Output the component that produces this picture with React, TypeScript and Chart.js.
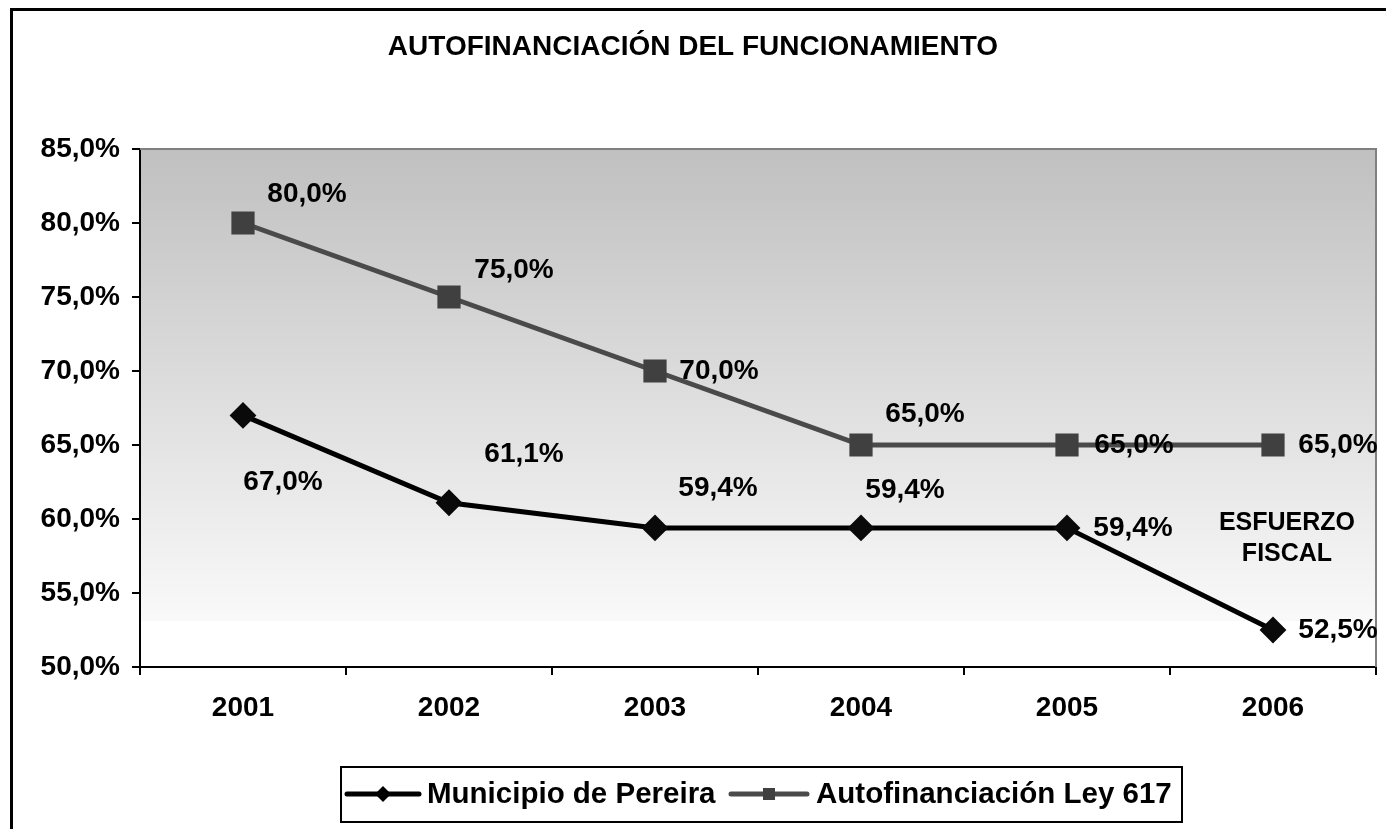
import React, { useEffect, useRef } from "react";
import { Chart, registerables } from "chart.js";

Chart.register(...registerables);

const TITLE = "AUTOFINANCIACIÓN DEL FUNCIONAMIENTO";
const YEARS = ["2001", "2002", "2003", "2004", "2005", "2006"];
const PEREIRA = [67.0, 61.1, 59.4, 59.4, 59.4, 52.5];
const LEY617 = [80.0, 75.0, 70.0, 65.0, 65.0, 65.0];
const SERIES_NAMES = ["Municipio de Pereira", "Autofinanciación Ley 617"];
const NOTE_LINES = ["ESFUERZO", "FISCAL"];
const Y_MIN = 50;
const Y_MAX = 85;
const Y_STEP = 5;

// label offsets (style only): [dx, dy] from each point
const PEREIRA_LABEL_OFFSETS = [
  [40, 67],
  [75, -48],
  [63, -40],
  [44, -38],
  [66, 0],
  [65, 0],
];
const LEY_LABEL_OFFSETS = [
  [64, -29],
  [65, -27],
  [64, 0],
  [64, -31],
  [67, 0],
  [65, 0],
];

const FONT = '"Liberation Sans", Arial, Helvetica, sans-serif';
const LINE2 = "#4a4a4a";
const MARK2 = "#404040";

const fmt = (v: number) => v.toFixed(1).replace(".", ",") + "%";

const decorPlugin = {
  id: "decor",
  beforeDraw(chart: any) {
    const { ctx, chartArea } = chart;
    const { left, top, right, bottom } = chartArea;
    const h = bottom - top;
    const gEnd = top + h * 0.911;
    ctx.save();
    ctx.fillStyle = "#ffffff";
    ctx.fillRect(0, 0, chart.width, chart.height);
    const g = ctx.createLinearGradient(0, top, 0, gEnd);
    g.addColorStop(0, "#c0c0c0");
    g.addColorStop(1, "#f9f9f9");
    ctx.fillStyle = g;
    ctx.fillRect(left, top, right - left, gEnd - top);
    ctx.restore();
  },
  beforeDatasetsDraw(chart: any) {
    const { ctx, chartArea } = chart;
    const { left, top, right, bottom } = chartArea;
    ctx.save();
    ctx.strokeStyle = "#808080";
    ctx.lineWidth = 2;
    ctx.beginPath();
    ctx.moveTo(left, top);
    ctx.lineTo(right, top);
    ctx.lineTo(right, bottom);
    ctx.stroke();
    ctx.restore();
  },
  afterDatasetsDraw(chart: any) {
    const { ctx } = chart;
    ctx.save();
    ctx.fillStyle = "#000";
    ctx.textAlign = "center";
    ctx.textBaseline = "middle";
    ctx.font = `bold 28px ${FONT}`;
    const offs = [PEREIRA_LABEL_OFFSETS, LEY_LABEL_OFFSETS];
    chart.data.datasets.forEach((ds: any, di: number) => {
      const meta = chart.getDatasetMeta(di);
      meta.data.forEach((pt: any, i: number) => {
        const [dx, dy] = offs[di][i];
        ctx.fillText(fmt(ds.data[i]), pt.x + dx, pt.y + dy);
      });
    });
    // note text
    const xs = chart.scales.x;
    const ys = chart.scales.y;
    const nx = xs.getPixelForValue(5) + 14;
    const ny = ys.getPixelForValue(59.4) - 5;
    ctx.font = `bold 25px ${FONT}`;
    ctx.fillText(NOTE_LINES[0], nx, ny);
    ctx.fillText(NOTE_LINES[1], nx, ny + 31);
    ctx.restore();
  },
  afterDraw(chart: any) {
    const { ctx } = chart;
    ctx.save();
    // title
    ctx.fillStyle = "#000";
    ctx.font = `bold 28px ${FONT}`;
    ctx.textAlign = "center";
    ctx.textBaseline = "middle";
    ctx.fillText(TITLE, 693, 47);

    // legend
    ctx.strokeStyle = "#000";
    ctx.lineWidth = 2;
    ctx.strokeRect(341, 767, 841, 55);
    const ly = 794;
    ctx.lineCap = "round";
    // entry 1
    ctx.strokeStyle = "#000";
    ctx.lineWidth = 5;
    ctx.beginPath();
    ctx.moveTo(347, ly);
    ctx.lineTo(419, ly);
    ctx.stroke();
    ctx.fillStyle = "#000";
    ctx.beginPath();
    ctx.moveTo(383, ly - 8);
    ctx.lineTo(391, ly);
    ctx.lineTo(383, ly + 8);
    ctx.lineTo(375, ly);
    ctx.closePath();
    ctx.fill();
    // entry 2
    ctx.strokeStyle = LINE2;
    ctx.beginPath();
    ctx.moveTo(731, ly);
    ctx.lineTo(807, ly);
    ctx.stroke();
    ctx.fillStyle = MARK2;
    ctx.fillRect(763, ly - 6, 12, 12);
    ctx.fillStyle = "#000";
    ctx.font = `bold 29.5px ${FONT}`;
    ctx.textAlign = "left";
    ctx.fillText(SERIES_NAMES[0], 427, ly + 1);
    ctx.fillText(SERIES_NAMES[1], 816, ly + 1);

    // outer border
    ctx.lineCap = "butt";
    ctx.strokeStyle = "#000";
    ctx.lineWidth = 3;
    ctx.strokeRect(11.5, 9.5, 1500, 1000);
    ctx.restore();
  },
};

export default function App() {
  const ref = useRef<HTMLCanvasElement | null>(null);

  useEffect(() => {
    document.body.style.margin = "0";
    const canvas = ref.current;
    if (!canvas) return;
    const chart = new Chart(canvas, {
      type: "line",
      data: {
        labels: YEARS,
        datasets: [
          {
            label: SERIES_NAMES[0],
            data: PEREIRA,
            borderColor: "#000000",
            backgroundColor: "#0a0a0a",
            borderWidth: 5,
            pointStyle: "rectRot",
            pointRadius: 12,
            pointBorderWidth: 2,
            pointBorderColor: "#0a0a0a",
            pointBackgroundColor: "#0a0a0a",
            tension: 0,
          },
          {
            label: SERIES_NAMES[1],
            data: LEY617,
            borderColor: LINE2,
            backgroundColor: MARK2,
            borderWidth: 5,
            pointStyle: "rect",
            pointRadius: 15,
            pointBorderWidth: 2,
            pointBorderColor: MARK2,
            pointBackgroundColor: MARK2,
            tension: 0,
          },
        ],
      },
      options: {
        responsive: false,
        animation: false,
        devicePixelRatio: 1,
        layout: { autoPadding: false, padding: { top: 149, right: 10, left: 0, bottom: 0 } },
        plugins: {
          legend: { display: false },
          title: { display: false },
          tooltip: { enabled: false },
        },
        scales: {
          x: {
            type: "category",
            offset: true,
            grid: {
              offset: true,
              drawOnChartArea: false,
              drawTicks: true,
              tickLength: 8,
              color: "#000",
              lineWidth: 2,
            },
            border: { display: true, color: "#000", width: 2 },
            ticks: {
              color: "#000",
              font: { family: FONT, size: 28, weight: "bold" },
              padding: 16,
              maxRotation: 0,
            },
            afterFit: (s: any) => {
              s.height = 162;
              s.paddingLeft = 0;
              s.paddingRight = 0;
            },
          },
          y: {
            min: Y_MIN,
            max: Y_MAX,
            grid: {
              drawOnChartArea: false,
              drawTicks: true,
              tickLength: 8,
              color: "#000",
              lineWidth: 2,
            },
            border: { display: true, color: "#000", width: 2 },
            ticks: {
              stepSize: Y_STEP,
              color: "#000",
              font: { family: FONT, size: 28, weight: "bold" },
              padding: 12,
              callback: (v: any) => fmt(Number(v)),
            },
            afterFit: (s: any) => {
              s.width = 140;
            },
          },
        },
      },
      plugins: [decorPlugin],
    });
    return () => chart.destroy();
  }, []);

  return (
    <div style={{ position: "absolute", left: 0, top: 0, width: 1386, height: 829 }}>
      <canvas ref={ref} width={1386} height={829} style={{ display: "block" }} />
    </div>
  );
}
